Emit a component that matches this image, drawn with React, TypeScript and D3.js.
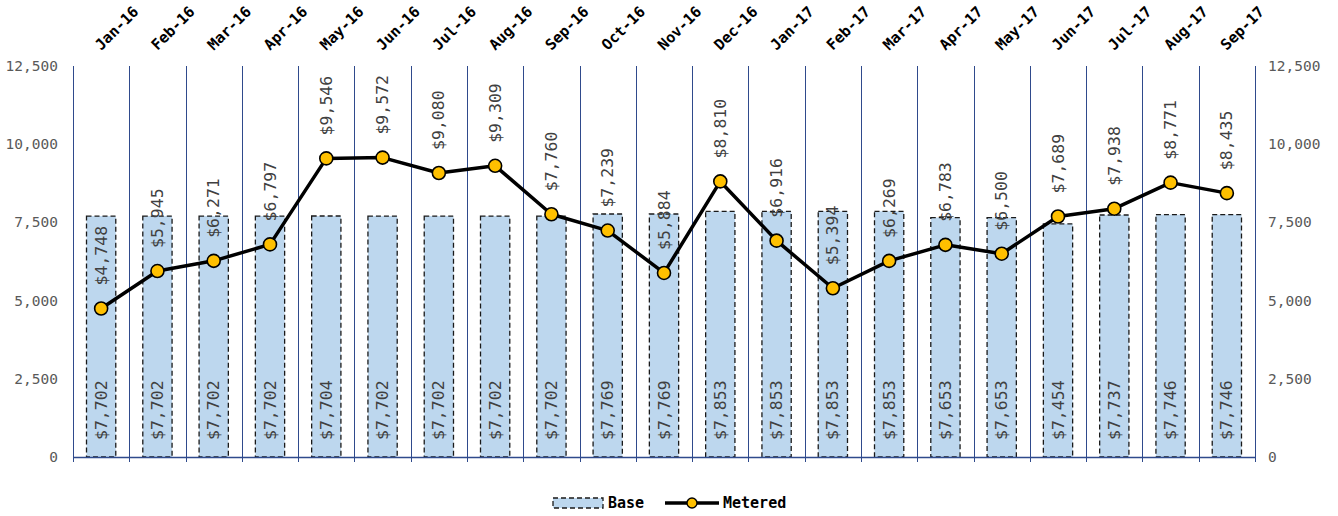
import { useEffect, useRef } from "react";
import * as d3 from "d3";

const months = [
  "Jan-16", "Feb-16", "Mar-16", "Apr-16", "May-16", "Jun-16", "Jul-16",
  "Aug-16", "Sep-16", "Oct-16", "Nov-16", "Dec-16", "Jan-17", "Feb-17",
  "Mar-17", "Apr-17", "May-17", "Jun-17", "Jul-17", "Aug-17", "Sep-17",
];
const baseValues = [
  7702, 7702, 7702, 7702, 7704, 7702, 7702, 7702, 7702, 7769, 7769, 7853,
  7853, 7853, 7853, 7653, 7653, 7454, 7737, 7746, 7746,
];
const meteredValues = [
  4748, 5945, 6271, 6797, 9546, 9572, 9080, 9309, 7760, 7239, 5884, 8810,
  6916, 5394, 6269, 6783, 6500, 7689, 7938, 8771, 8435,
];
const yTicks = [0, 2500, 5000, 7500, 10000, 12500];

const MONO = "Consolas, 'DejaVu Sans Mono', 'Liberation Mono', monospace";

export default function App() {
  const svgRef = useRef<SVGSVGElement>(null);

  useEffect(() => {
    if (!svgRef.current) return;
    const svg = d3.select(svgRef.current);
    svg.selectAll("*").remove();

    const left = 73;
    const right = 1255;
    const top = 66;
    const bottom = 457;

    const x = d3.scaleBand<string>().domain(months).range([left, right]).padding(0);
    const y = d3.scaleLinear().domain([0, 12500]).range([bottom, top]);
    const fmt = d3.format(",");
    const gridColor = "#2f4a8c";

    // vertical gridlines at category boundaries
    const bounds = months.map((m) => x(m)!).concat([right]);
    svg
      .append("g")
      .selectAll("line")
      .data(bounds)
      .enter()
      .append("line")
      .attr("x1", (d) => Math.round(d) + 0.5)
      .attr("x2", (d) => Math.round(d) + 0.5)
      .attr("y1", top)
      .attr("y2", bottom + 5)
      .attr("stroke", gridColor)
      .attr("stroke-width", 1);

    // base bars
    const barW = x.bandwidth() * 0.52;
    svg
      .append("g")
      .selectAll("rect")
      .data(baseValues)
      .enter()
      .append("rect")
      .attr("x", (_, i) => x(months[i])! + (x.bandwidth() - barW) / 2)
      .attr("y", (d) => y(d))
      .attr("width", barW)
      .attr("height", (d) => bottom - y(d))
      .attr("fill", "#bdd7ee")
      .attr("stroke", "#1a1a1a")
      .attr("stroke-width", 1.3)
      .attr("stroke-dasharray", "5,3");

    // bottom axis line
    svg
      .append("line")
      .attr("x1", left)
      .attr("x2", right + 1)
      .attr("y1", bottom + 0.5)
      .attr("y2", bottom + 0.5)
      .attr("stroke", gridColor)
      .attr("stroke-width", 1.3);

    // base labels (inside base, rotated)
    svg
      .append("g")
      .selectAll("text")
      .data(baseValues)
      .enter()
      .append("text")
      .attr("transform", (_, i) => {
        const cx = x(months[i])! + x.bandwidth() / 2;
        return `translate(${cx},${bottom - 17}) rotate(-90)`;
      })
      .attr("dominant-baseline", "central")
      .attr("text-anchor", "start")
      .style("font-family", MONO)
      .style("font-size", "16.5px")
      .style("fill", "#404040")
      .text((d) => `$${fmt(d)}`);

    // metered line
    const line = d3
      .line<number>()
      .x((_, i) => x(months[i])! + x.bandwidth() / 2)
      .y((d) => y(d));
    svg
      .append("path")
      .datum(meteredValues)
      .attr("d", line)
      .attr("fill", "none")
      .attr("stroke", "#000")
      .attr("stroke-width", 3.5)
      .attr("stroke-linejoin", "round");

    svg
      .append("g")
      .selectAll("circle")
      .data(meteredValues)
      .enter()
      .append("circle")
      .attr("cx", (_, i) => x(months[i])! + x.bandwidth() / 2)
      .attr("cy", (d) => y(d))
      .attr("r", 6.5)
      .attr("fill", "#ffc000")
      .attr("stroke", "#000")
      .attr("stroke-width", 1.6);

    // metered labels
    svg
      .append("g")
      .selectAll("text")
      .data(meteredValues)
      .enter()
      .append("text")
      .attr("transform", (d, i) => {
        const cx = x(months[i])! + x.bandwidth() / 2;
        return `translate(${cx},${y(d) - 23}) rotate(-90)`;
      })
      .attr("dominant-baseline", "central")
      .attr("text-anchor", "start")
      .style("font-family", MONO)
      .style("font-size", "16.5px")
      .style("fill", "#404040")
      .text((d) => `$${fmt(d)}`);

    // y axis labels, left and right
    const yl = svg.append("g");
    yl.selectAll("text.l")
      .data(yTicks)
      .enter()
      .append("text")
      .attr("class", "l")
      .attr("x", 58)
      .attr("y", (d) => y(d))
      .attr("text-anchor", "end")
      .attr("dominant-baseline", "central")
      .style("font-family", MONO)
      .style("font-size", "14.5px")
      .style("fill", "#595959")
      .text((d) => fmt(d));
    yl.selectAll("text.r")
      .data(yTicks)
      .enter()
      .append("text")
      .attr("class", "r")
      .attr("x", 1268)
      .attr("y", (d) => y(d))
      .attr("text-anchor", "start")
      .attr("dominant-baseline", "central")
      .style("font-family", MONO)
      .style("font-size", "14.5px")
      .style("fill", "#595959")
      .text((d) => fmt(d));

    // month labels at top
    svg
      .append("g")
      .selectAll("text")
      .data(months)
      .enter()
      .append("text")
      .attr("transform", (m) => {
        const cx = x(m)! + x.bandwidth() / 2;
        return `translate(${cx},${51}) rotate(-45)`;
      })
      .attr("text-anchor", "start")
      .style("font-family", MONO)
      .style("font-size", "15px")
      .style("font-weight", "bold")
      .style("fill", "#000")
      .text((m) => m);

    // legend
    const lg = svg.append("g").attr("transform", "translate(553,503)");
    lg.append("rect")
      .attr("x", 0)
      .attr("y", -5)
      .attr("width", 50)
      .attr("height", 10)
      .attr("fill", "#bdd7ee")
      .attr("stroke", "#1a1a1a")
      .attr("stroke-width", 1.3)
      .attr("stroke-dasharray", "5,3");
    lg.append("text")
      .attr("x", 55)
      .attr("y", 0)
      .attr("dominant-baseline", "central")
      .style("font-family", MONO)
      .style("font-size", "15px")
      .style("font-weight", "bold")
      .text("Base");
    lg.append("line")
      .attr("x1", 112)
      .attr("x2", 166)
      .attr("y1", 0)
      .attr("y2", 0)
      .attr("stroke", "#000")
      .attr("stroke-width", 3.5);
    lg.append("circle")
      .attr("cx", 139)
      .attr("cy", 0)
      .attr("r", 5)
      .attr("fill", "#ffc000")
      .attr("stroke", "#000")
      .attr("stroke-width", 1.4);
    lg.append("text")
      .attr("x", 170)
      .attr("y", 0)
      .attr("dominant-baseline", "central")
      .style("font-family", MONO)
      .style("font-size", "15px")
      .style("font-weight", "bold")
      .text("Metered");
  }, []);

  return (
    <div style={{ position: "absolute", left: 0, top: 0 }}>
      <svg ref={svgRef} width={1338} height={516} style={{ display: "block", background: "#fff" }}></svg>
    </div>
  );
}
